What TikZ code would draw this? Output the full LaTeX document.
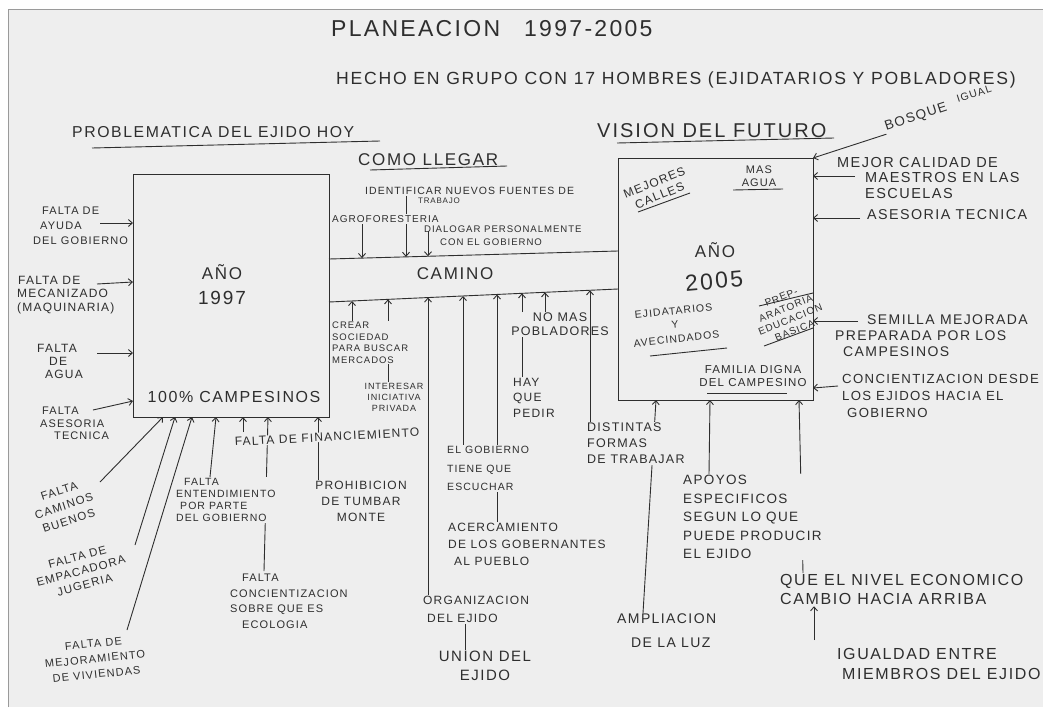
\documentclass[tikz,border=0pt]{standalone}
\usepackage{fontspec}
\newfontfamily\hand[LetterSpace=10]{Liberation Sans}
\usetikzlibrary{arrows.meta,calc}
\definecolor{paper}{HTML}{EEEEEE}
\definecolor{ink}{HTML}{2E2E2E}
\definecolor{framec}{HTML}{9A9A9A}
\pgfdeclarelayer{paperlayer}
\pgfdeclarelayer{conn}
\pgfdeclarelayer{top}
\pgfsetlayers{paperlayer,conn,main,top}
\begin{document}
\begin{tikzpicture}[x=1pt,y=-1pt,
  lb/.style={text=ink, inner sep=1pt},
  fs/.style 2 args={font=\hand\fontsize{#1}{#2}\selectfont},
  hide/.style={fill=paper},
  box/.style={draw=ink, line width=1pt, inner sep=0pt, outer sep=0pt},
  ln/.style={draw=ink, line width=0.9pt},
  arr/.style={draw=ink, line width=0.9pt, -{Straight Barb[length=4pt,width=7pt]}},
]
\useasboundingbox (0,0) rectangle (1043,707);
\begin{pgfonlayer}{paperlayer}
\fill[white] (0,0) rectangle (1043,707);
\fill[paper] (8,9) rectangle (1043,707);
\draw[framec, line width=1pt] (8,707) -- (8,9) -- (1043,9);
\end{pgfonlayer}

% boxes and road
\begin{pgfonlayer}{top}
\node[box, minimum width=196pt, minimum height=243pt] (b1) at (231,295.5) {};
\node[box, minimum width=195pt, minimum height=242pt] (b2) at (715.5,279) {};
\draw[ln] (b1.east |- 0,259) -- (b2.west |- 0,251);
\draw[ln] (b1.east |- 0,302) -- (b2.west |- 0,289);
\end{pgfonlayer}

% road anchor points
\coordinate (t1) at (362,258.1);
\coordinate (t2) at (406,256.9);
\coordinate (t3) at (428,256.3);
\coordinate (r1) at (352,301.0);
\coordinate (r2) at (388,299.3);
\coordinate (r3) at (428,297.5);
\coordinate (r4) at (463,296.0);
\coordinate (r5) at (497,294.4);
\coordinate (r6) at (522,293.3);
\coordinate (r7) at (545,292.3);
\coordinate (r8) at (590,290.3);

% header
\node[lb,fs={23}{26},anchor=west] (title) at (330,29) {PLANEACION\hspace{24pt}1997-2005};
\node[lb,fs={17.6}{20},anchor=west] (sub) at (335,80) {HECHO EN GRUPO CON 17 HOMBRES (EJIDATARIOS Y POBLADORES)};
\node[lb,fs={15.8}{18},anchor=west] (prob) at (71,132) {PROBLEMATICA DEL EJIDO HOY};
\node[lb,fs={17}{18},anchor=west] (como) at (357,160) {COMO LLEGAR};
\node[lb,fs={20}{22},anchor=west] (vision) at (596,131) {VISION DEL FUTURO};
\node[lb,fs={13.5}{15},rotate=18] (bosque) at (916,117) {BOSQUE};
\node[lb,fs={10.5}{12},rotate=18] (igualb) at (974,94) {IGUAL};
\draw[ln] (92,148) -- (380,141);
\draw[ln] (370,170) -- (507,166);
\draw[ln] (617,143) -- (834,138);

% box 1 content
\node[lb,fs={17}{19}] (ano1) at (222,272) {AÑO};
\node[lb,fs={19}{21}] (y1997) at (222,298) {1997};
\node[lb,fs={16}{18}] (campes) at (234,397) {100\% CAMPESINOS};

% box 2 content
\node[lb,fs={12}{14},rotate=22,align=center] (mejores) at (657,189) {MEJORES\\CALLES};
\draw[ln] (638,212) -- (690,193);
\node[lb,fs={11}{12.5},align=center] (masagua) at (759,176) {MAS\\AGUA};
\draw[ln] (733,190) -- (783,189);
\node[lb,fs={17}{19}] (ano2) at (715,250) {AÑO};
\node[lb,fs={23}{25},rotate=5] (y2005) at (714,281) {2005};
\node[lb,fs={10.5}{14},rotate=6,align=center] (ejid) at (675,325) {EJIDATARIOS\\Y\\AVECINDADOS};
\draw[ln] (650,356) -- (727,348);
\node[lb,fs={10}{12},rotate=22,align=center] (prep) at (788,314) {PREP-\\ARATORIA\\EDUCACION\\BASICA};
\draw[ln] (759,306) -- (813,293);
\draw[ln] (764,346) -- (813,328);
\node[lb,fs={11.5}{13},align=center] (familia) at (753,376) {FAMILIA DIGNA\\DEL CAMPESINO};
\draw[ln] (707,393) -- (787,393);

% road
\node[lb,fs={17}{19}] (camino) at (455,274) {CAMINO};
\node[lb,fs={10.5}{12},anchor=west] (ident) at (364,191) {IDENTIFICAR NUEVOS FUENTES DE};
\node[lb,fs={8}{9},anchor=west] (trabajo) at (417,201) {TRABAJO};
\node[lb,hide,fs={10}{12},anchor=west] (agro) at (331,219) {AGROFORESTERIA};
\node[lb,fs={9.6}{12.5},align=left,anchor=north west] (dialog) at (423,225) {DIALOGAR PERSONALMENTE\\\hspace*{16pt}CON EL GOBIERNO};
\node[lb,hide,fs={9.5}{11.5},align=left,anchor=north west] (crear) at (331,321) {CREAR\\SOCIEDAD\\PARA BUSCAR\\MERCADOS};
\node[lb,fs={9}{11},align=center,anchor=north] (inter) at (394,382) {INTERESAR\\INICIATIVA\\PRIVADA};
\node[lb,fs={12.5}{14},align=center,anchor=north] (nomas) at (560,312) {NO MAS\\POBLADORES};
\node[lb,fs={12}{15.5},align=left,anchor=north west] (hay) at (512,377) {HAY\\QUE\\PEDIR};
\node[lb,hide,fs={12.5}{16},align=left,anchor=north west] (dist) at (586,422) {DISTINTAS\\FORMAS\\DE TRABAJAR};
\node[lb,hide,fs={10.5}{18.5},align=left,anchor=north west] (elgob) at (446,445) {EL GOBIERNO\\TIENE QUE\\ESCUCHAR};
\node[lb,fs={12}{17},align=left,anchor=north west] (acerc) at (447,522) {ACERCAMIENTO\\DE LOS GOBERNANTES\\\hspace*{6pt}AL PUEBLO};
\node[lb,fs={12}{18},align=left,anchor=north west] (org) at (422,595) {ORGANIZACION\\\hspace*{4pt}DEL EJIDO};
\node[lb,fs={15}{19},align=center,anchor=north] (union) at (485,650) {UNION DEL\\EJIDO};

% below box 2
\node[lb,fs={14}{24},align=left,anchor=north west] (ampl) at (616,613) {AMPLIACION\\\hspace*{14pt}DE LA LUZ};
\node[lb,hide,fs={13.5}{18.5},align=left,anchor=north west] (apoyos) at (682,474) {APOYOS\\ESPECIFICOS\\SEGUN LO QUE\\PUEDE PRODUCIR\\EL EJIDO};
\node[lb,fs={16}{19.5},align=left,anchor=north west] (nivel) at (779,573) {QUE EL NIVEL ECONOMICO\\CAMBIO HACIA ARRIBA};
\node[lb,fs={16}{20},align=left,anchor=north west] (igual) at (836,647) {IGUALDAD ENTRE\\\hspace*{5pt}MIEMBROS DEL EJIDO};

% right of box 2
\node[lb,fs={14.5}{15.5},align=left,anchor=north west] (maestros) at (836,156) {MEJOR CALIDAD DE\\\hspace*{28pt}MAESTROS EN LAS\\\hspace*{28pt}ESCUELAS};
\node[lb,fs={14.3}{16},anchor=west] (asesor2) at (866,215) {ASESORIA TECNICA};
\node[lb,fs={14}{16},align=left,anchor=north west] (semilla) at (834,314) {\hspace*{32pt}SEMILLA MEJORADA\\PREPARADA POR LOS\\\hspace*{8pt}CAMPESINOS};
\node[lb,fs={13.2}{17},align=left,anchor=north west] (concien) at (841,373) {CONCIENTIZACION DESDE\\LOS EJIDOS HACIA EL\\\hspace*{5pt}GOBIERNO};

% left of box 1
\node[lb,fs={11}{15},align=left,anchor=north west] (ayuda) at (32,206) {\hspace*{9pt}FALTA DE\\\hspace*{7pt}AYUDA\\DEL GOBIERNO};
\node[lb,fs={12}{13.5},align=left,anchor=north west] (mecan) at (16,275) {\hspace*{1pt}FALTA DE\\MECANIZADO\\(MAQUINARIA)};
\node[lb,fs={12}{13},align=left,anchor=north west] (agua) at (36,343) {FALTA\\\hspace*{12pt}DE\\\hspace*{8pt}AGUA};
\node[lb,fs={11}{12.5},align=left,anchor=north west] (asesor1) at (39,406) {\hspace*{2pt}FALTA\\ASESORIA\\\hspace*{14pt}TECNICA};

% below box 1
\node[lb,fs={11.5}{15.5},rotate=18,align=center] (caminos) at (64,506) {FALTA\\CAMINOS\\BUENOS};
\node[lb,fs={11.5}{14.5},rotate=15,align=center] (empac) at (81,571) {FALTA DE\\EMPACADORA\\JUGERIA};
\node[lb,fs={11}{15.5},rotate=6,align=center] (vivien) at (95,659) {FALTA DE\\MEJORAMIENTO\\DE VIVIENDAS};
\node[lb,hide,fs={10.5}{12},align=left,anchor=north west] (entend) at (175,477) {\hspace*{8pt}FALTA\\ENTENDIMIENTO\\\hspace*{4pt}POR PARTE\\DEL GOBIERNO};
\node[lb,hide,fs={12}{13},rotate=3,inner sep=0.5pt] (financ) at (327,437) {FALTA DE FINANCIEMIENTO};
\node[lb,fs={11}{15.5},align=left,anchor=north west] (concien1) at (229,573) {\hspace*{12pt}FALTA\\CONCIENTIZACION\\SOBRE QUE ES\\\hspace*{12pt}ECOLOGIA};
\node[lb,fs={12}{16},align=center,anchor=north] (prohib) at (361,480) {PROHIBICION\\DE TUMBAR\\MONTE};

% connectors
\begin{pgfonlayer}{conn}
% into box 1 from the left
\draw[arr] (100,223) -- (b1.west |- 0,223);
\draw[arr] (97,284) -- (b1.west |- 0,282);
\draw[arr] (97,353) -- (b1.west |- 0,353);
\draw[arr] (93,410) -- (b1.west |- 0,401);
% into box 1 from below
\draw[arr] (100,482) -- (b1.south -| 163,0);
\draw[arr] (135,545) -- (b1.south -| 175,0);
\draw[arr] (127,630) -- (b1.south -| 192,0);
\draw[arr] (entend.north west) ++(35,0) -- (b1.south -| 216,0);
\draw[arr] (financ.north -| 243,0) -- (b1.south -| 243,0);
\draw[arr] (concien1.north west) ++(35,-2) -- (b1.south -| 268,0);
\draw[arr] (prohib.north -| 318,0) -- (b1.south -| 318,0);
% into the road from above
\draw[arr] (agro.south -| t1) -- (t1);
\draw[arr] (ident.south -| t2) -- (t2);
\draw[arr] ([yshift=-6pt]t3 |- dialog.north) -- (t3);
% into the road from below
\draw[arr] (crear.north -| r1) -- (r1);
\draw[arr] (inter.north -| r2) -- (r2);
\draw[arr] (org.north -| r3) -- (r3);
\draw[arr] (elgob.north -| r4) -- (r4);
\draw[arr] (acerc.north -| r5) -- (r5);
\draw[ln] (hay.north -| r6) -- (nomas.south -| r6);
\draw[arr] (nomas.north -| r6) -- (r6);
\draw[arr] (nomas.north -| r7) -- (r7);
\draw[arr] (dist.north -| r8) -- (r8);
\draw[ln] (org.south -| 465,0) -- (union.north -| 465,0);
% into box 2
\draw[arr] (bosque.south west) -- (b2.north east);
\draw[arr] (maestros.north west) ++(19,20) -- (b2.east |- 0,176);
\draw[arr] (asesor2.west) ++(-6,3) -- (b2.east |- 0,218);
\draw[arr] (semilla.north west) ++(24,7) -- (b2.east |- 0,321);
\draw[arr] (concien.north west) ++(-3,13) -- (b2.east |- 0,388);
\draw[arr] (ampl.north west) ++(27,0) -- (b2.south -| 656,0);
\draw[arr] (apoyos.north -| 709,0) -- (b2.south -| 710,0);
\draw[arr] (nivel.north -| 803,0) -- (b2.south -| 799,0);
\draw[arr] (igual.north -| 814,0) ++(0,-7) -- (nivel.south -| 814,0);
\end{pgfonlayer}
\end{tikzpicture}
\end{document}
